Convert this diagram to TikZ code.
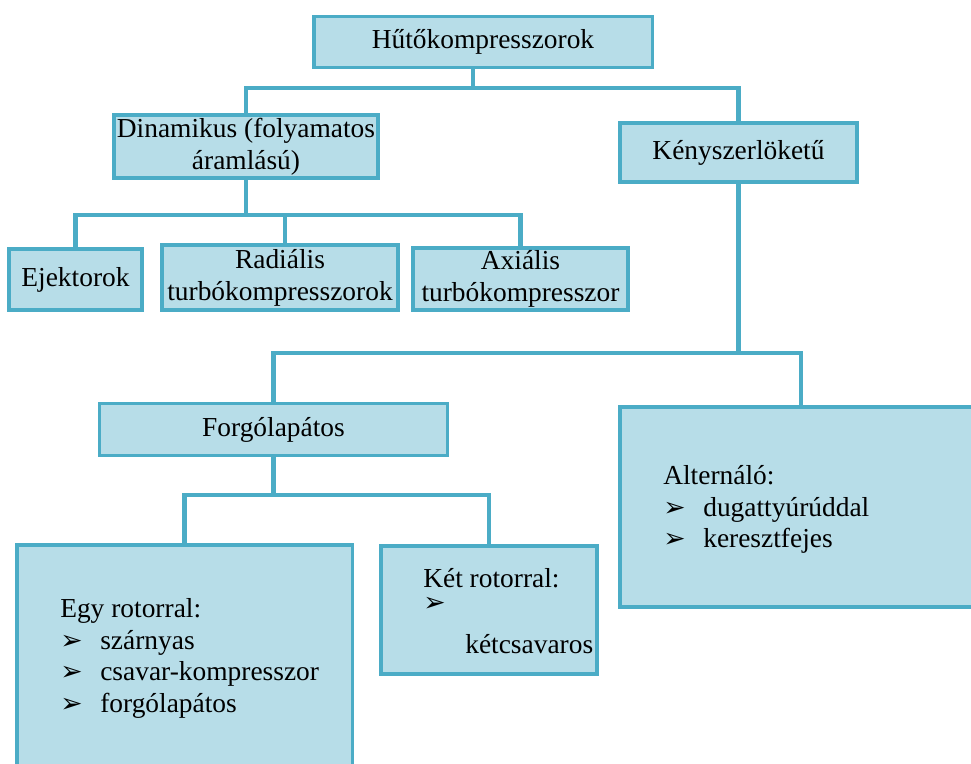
\documentclass[tikz,border=0pt]{standalone}
\usepackage{fontspec}
\setmainfont{Liberation Serif}
\newfontfamily\dingfont{DejaVu Sans}
\definecolor{boxfill}{HTML}{B7DDE8}
\definecolor{boxline}{HTML}{4BACC6}
\newcommand{\bul}{\makebox[1cm][l]{\dingfont\fontsize{19}{19}\selectfont ➢}}
\tikzset{
  box/.style={draw=boxline, fill=boxfill, line width=2.2pt, inner sep=0pt,
    align=center, font=\fontsize{19.5}{22.6}\selectfont},
  conn/.style={draw=boxline, line width=3.1pt},
  listtext/.style={inner sep=0pt, align=left, anchor=north west,
    font=\fontsize{19.5}{22.6}\selectfont}
}
\begin{document}
\begin{tikzpicture}[x=0.025cm, y=-0.025cm]
\useasboundingbox (0,0) rectangle (971,763);
\clip (0,0) rectangle (971,763);
% boxes
\node[box, minimum width=8.45cm, minimum height=1.275cm] (top) at (483,42) {Hűtőkompresszorok};
\node[box, minimum width=6.6cm, minimum height=1.575cm] (dina) at (246,146.5) {Dinamikus (folyamatos\\áramlású)};
\node[box, minimum width=5.925cm, minimum height=1.475cm] (keny) at (738.5,152.5) {Kényszerlöketű};
\node[box, minimum width=3.325cm, minimum height=1.525cm] (ejek) at (75.5,279.5) {Ejektorok};
\node[box, minimum width=5.9cm, minimum height=1.625cm] (radi) at (280,277.5) {Radiális\\turbókompresszorok};
\node[box, minimum width=5.375cm, minimum height=1.55cm] (axi) at (520.5,279) {Axiális\\turbókompresszor};
\node[box, minimum width=8.7cm, minimum height=1.3cm] (forg) at (273.5,429.5) {Forgólapátos};
\node[box, minimum width=8.375cm, minimum height=6.375cm] (egy) at (184.5,672.5) {};
\node[box, minimum width=5.4cm, minimum height=3.2cm] (ket) at (489,610) {};
\node[box, minimum width=9.05cm, minimum height=5cm] (alt) at (801,507) {};
% texts of the list boxes
\node[listtext] (egytext) at (60,598) {Egy rotorral:\\\bul szárnyas\\\bul csavar-kompresszor\\\bul forgólapátos};
\node[listtext] (kettext) at (423,568) {Két rotorral:\\[-5.6pt]\bul\\[7.2pt]\hspace*{1.05cm}kétcsavaros};
\node[listtext] (alttext) at (663,465) {Alternáló:\\\bul dugattyúrúddal\\\bul keresztfejes};
% connectors
\coordinate (b1) at (473,88);
\coordinate (b2) at (285,215);
\coordinate (b3) at (737,353);
\coordinate (b4) at (273,495);
\draw[conn] (top.south -| b1) -- (b1);
\draw[conn] (dina.north) |- (b1) -| (keny.north);
\draw[conn] (dina.south) -- (dina.south |- b2);
\draw[conn] (ejek.north) |- (b2) -| (axi.north);
\draw[conn] (radi.north -| b2) -- (b2);
\draw[conn] (keny.south) -- (keny.south |- b3);
\draw[conn] (forg.north) |- (b3) -| (alt.north);
\draw[conn] (forg.south) -- (forg.south |- b4);
\draw[conn] (egy.north) |- (b4) -| (ket.north);
\end{tikzpicture}
\end{document}
